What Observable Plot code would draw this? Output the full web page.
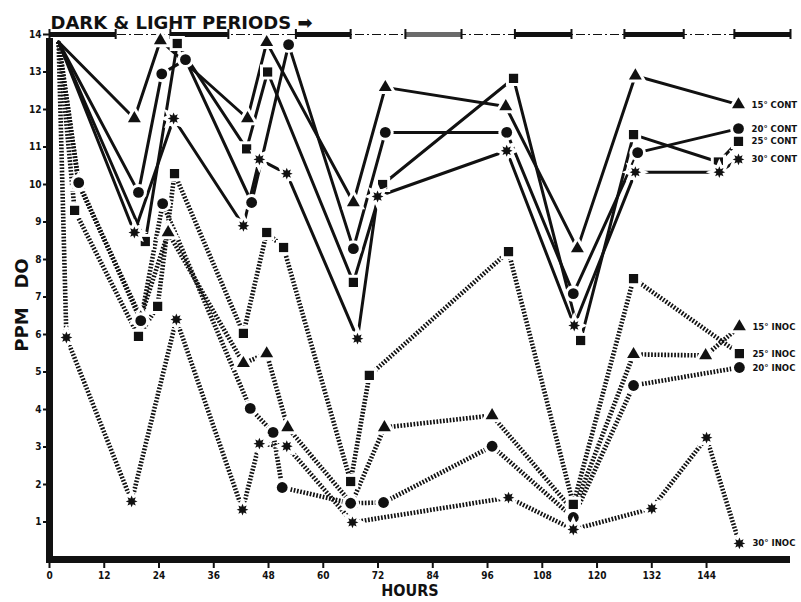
<!DOCTYPE html>
<html><head><meta charset="utf-8">
<script src="https://cdn.jsdelivr.net/npm/d3@7"></script>
<script src="https://cdn.jsdelivr.net/npm/@observablehq/plot@0.6"></script>
<style>body{margin:0;background:#fff}svg{display:block}</style>
</head><body><div id="chart"></div>
<script>
// ---- data ----
const hours15c = [2, 18.6, 24.3, 43.4, 47.6, 66.6, 73.6, 100, 115.7, 128.4, 151];
const ppm15c   = [13.8, 11.76, 13.84, 11.76, 13.79, 9.52, 12.59, 12.08, 8.29, 12.9, 12.13];
const hours20c = [2, 19.5, 24.6, 29.8, 44.3, 52.4, 66.6, 73.6, 100.2, 114.8, 128.9, 151];
const ppm20c   = [13.8, 9.79, 12.95, 13.33, 9.52, 13.73, 8.29, 11.39, 11.39, 7.09, 10.85, 11.49];
const hours25c = [2, 21, 28, 43.2, 47.8, 66.6, 73, 101.7, 116.4, 128, 146.6, 151];
const ppm25c   = [13.8, 8.48, 13.76, 10.95, 13.0, 7.39, 10.0, 12.83, 5.84, 11.33, 10.6, 11.15];
const hours30c = [2, 18.6, 27.2, 42.5, 46, 52, 67.5, 71.9, 100.2, 115, 128.4, 146.8, 151];
const ppm30c   = [13.8, 8.72, 11.76, 8.9, 10.67, 10.29, 5.89, 9.68, 10.9, 6.24, 10.33, 10.33, 10.67];
const hours15i = [2, 6.4, 20, 26, 42.5, 47.6, 52.2, 66.2, 73.4, 97, 114.8, 128, 143.8, 151.2];
const ppm15i   = [13.8, 10.0, 6.45, 8.72, 5.23, 5.49, 3.52, 1.49, 3.52, 3.84, 1.3, 5.47, 5.44, 6.21];
const hours20i = [2, 6.4, 20, 24.8, 44, 49, 51, 66, 73.2, 97, 114.8, 128, 151.2];
const ppm20i   = [13.8, 10.05, 6.37, 9.49, 4.03, 3.39, 1.92, 1.5, 1.52, 3.02, 1.12, 4.64, 5.12];
const hours25i = [2, 5.5, 19.5, 23.7, 27.4, 42.5, 47.6, 51.3, 66, 70.1, 100.6, 114.8, 128, 151.2];
const ppm25i   = [13.8, 9.31, 5.95, 6.75, 10.29, 6.03, 8.72, 8.32, 2.08, 4.91, 8.21, 1.47, 7.49, 5.49];
const hours30i = [2, 3.7, 18, 27.8, 42.3, 46, 52, 66.4, 100.6, 114.8, 132, 144, 151.2];
const ppm30i   = [13.8, 5.92, 1.55, 6.4, 1.33, 3.09, 3.02, 0.99, 1.65, 0.8, 1.36, 3.25, 0.43];

const seriesNames  = ["15° CONT", "20° CONT", "25° CONT", "30° CONT", "15° INOC", "20° INOC", "25° INOC", "30° INOC"];
const seriesHours  = [hours15c, hours20c, hours25c, hours30c, hours15i, hours20i, hours25i, hours30i];
const seriesPPM    = [ppm15c, ppm20c, ppm25c, ppm30c, ppm15i, ppm20i, ppm25i, ppm30i];
const seriesKind   = ["CONT", "CONT", "CONT", "CONT", "INOC", "INOC", "INOC", "INOC"];
const seriesMarker = ["triangle", "circle", "square", "star", "triangle", "circle", "square", "star"];

const darkStart = [0, 26.5, 54, 78, 102, 126, 150.1];
const darkEnd   = [14.5, 39.2, 66, 90.3, 114.4, 139, 162.4];
const darkTone  = ["dark", "dark", "dark", "grey", "dark", "dark", "dark"];

const xTicks = [0, 12, 24, 36, 48, 60, 72, 84, 96, 108, 120, 132, 144];
const yTicks = [1, 2, 3, 4, 5, 6, 7, 8, 9, 10, 11, 12, 13, 14];

// ---- build tables ----
const rows = [];
seriesNames.forEach((name, s) => {
  seriesHours[s].forEach((h, i) => rows.push({series: name, kind: seriesKind[s], marker: seriesMarker[s], h, v: seriesPPM[s][i], i, last: i === seriesHours[s].length - 1}));
});
const periods = darkStart.map((s, i) => ({start: s, end: darkEnd[i], tone: darkTone[i]}));
const periodEnds = periods.flatMap(p => [p.start, p.end]);

const starburst = {
  draw(ctx, size) {
    const R = Math.sqrt(size / Math.PI) * 1.05, r = R * 0.55, n = 8;
    for (let k = 0; k < 2 * n; k++) {
      const a = k * Math.PI / n - Math.PI / 2, rr = k % 2 ? r : R;
      const x = rr * Math.cos(a), y = rr * Math.sin(a);
      k ? ctx.lineTo(x, y) : ctx.moveTo(x, y);
    }
    ctx.closePath();
  }
};
const symbolOf = {triangle: "triangle", circle: "circle", square: "square", star: starburst};
const sizeOf = {triangle: 4.8, circle: 5.4, square: 5.2, star: 5.6};

const INK = "#111111";
const FONT = "'DejaVu Sans Condensed', 'Liberation Sans Narrow', sans-serif";

const dotMarks = Object.keys(symbolOf).map(m =>
  Plot.dot(rows.filter(d => d.marker === m && d.i > 0), {
    x: "h", y: "v", symbol: symbolOf[m], r: sizeOf[m],
    fill: INK, stroke: "white", strokeWidth: 6, paintOrder: "stroke"
  })
);

const chart = Plot.plot({
  width: 801, height: 602,
  marginLeft: 49, marginRight: 11, marginTop: 34, marginBottom: 43,
  style: {fontFamily: FONT, background: "white", color: INK},
  x: {domain: [0, 162.4]},
  y: {domain: [0, 14]},
  marks: [
    // dark & light periods bar
    Plot.ruleY([14], {stroke: INK, strokeWidth: 1, strokeDasharray: "9,3,2,3"}),
    Plot.ruleY(periods, {y: () => 14, x1: "start", x2: "end", stroke: d => d.tone === "grey" ? "#6b6b6b" : INK, strokeWidth: 5}),
    Plot.ruleX(periodEnds, {x: d => d, y1: () => 14, y2: () => 14, insetTop: -5, insetBottom: -5, stroke: INK, strokeWidth: 2}),
    // series
    Plot.line(rows.filter(d => d.kind === "INOC"), {x: "h", y: "v", z: "series", stroke: INK, strokeWidth: 4.6, strokeDasharray: "1.7,1.6", strokeLinecap: "butt", strokeLinejoin: "miter"}),
    Plot.line(rows.filter(d => d.kind === "CONT"), {x: "h", y: "v", z: "series", stroke: INK, strokeWidth: 3}),
    ...dotMarks,
    Plot.text(rows.filter(d => d.last), {x: "h", y: "v", text: "series", dx: 13, textAnchor: "start", fontSize: 9.5, fontWeight: "bold", fill: INK}),
    // axes
    Plot.axisY({ticks: yTicks, tickSize: 6, tickPadding: 2, tickFormat: d => d, fontSize: 10, fontWeight: "bold", strokeWidth: 2, label: null}),
    Plot.axisX({ticks: xTicks, tickSize: 9, tickPadding: 3, tickFormat: d => d, fontSize: 10, fontWeight: "bold", strokeWidth: 2, label: null}),
    Plot.ruleX([0], {y1: () => 0, y2: () => 14, stroke: INK, strokeWidth: 7, insetBottom: -4}),
    Plot.ruleY([0], {stroke: INK, strokeWidth: 7, insetLeft: -3}),
    // titles
    Plot.text(["DARK & LIGHT PERIODS ➡"], {frameAnchor: "top-left", dx: 1, dy: -18, textAnchor: "start", fontSize: 18, fontWeight: "bold", fontFamily: "'DejaVu Sans', sans-serif", fill: INK}),
    Plot.text(["PPM   DO"], {frameAnchor: "left", dx: -27, dy: 8, rotate: -90, textAnchor: "middle", fontSize: 18, fontWeight: "bold", fontFamily: "'DejaVu Sans', sans-serif", fill: INK}),
    Plot.text(["HOURS"], {frameAnchor: "bottom", dx: -10, dy: 36, textAnchor: "middle", fontSize: 16, fontWeight: "bold", fontFamily: "'DejaVu Sans Condensed', sans-serif", fill: INK})
  ]
});
document.getElementById("chart").append(chart);
</script></body></html>
